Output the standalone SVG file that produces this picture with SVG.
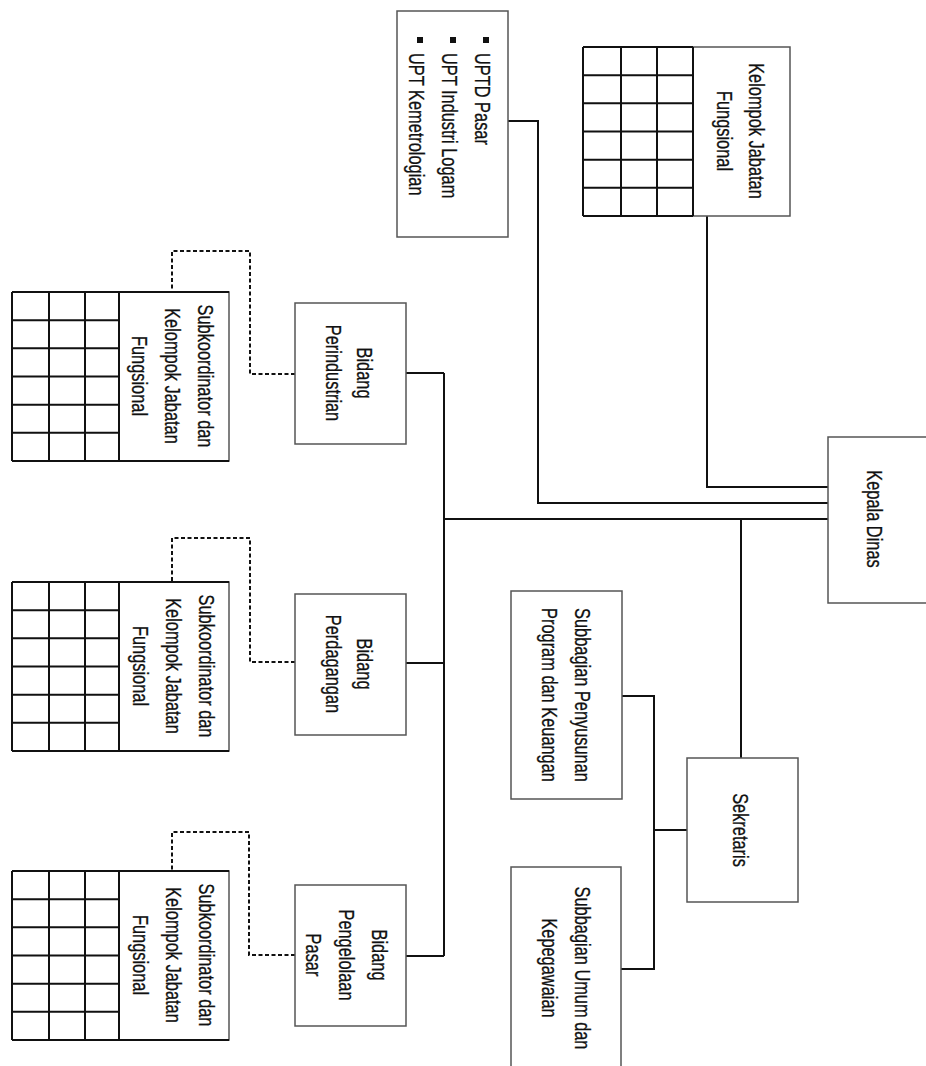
<svg xmlns="http://www.w3.org/2000/svg" width="926" height="1066" viewBox="0 0 926 1066">
<style>
.box{fill:#fff;stroke:#555;stroke-width:1.5}
.grid{fill:none;stroke:#111;stroke-width:2}
.conn{fill:none;stroke:#111;stroke-width:2}
.dash{fill:none;stroke:#111;stroke-width:2;stroke-dasharray:4 2.5}
text{font-family:"Liberation Sans",Arial,sans-serif;font-size:22px;fill:#111;stroke:#111;stroke-width:0.3}
.m{text-anchor:middle}
</style>
<defs>
<g id="grid6">
<path class="grid" d="M0,0H217 M0,169H217 M0,0V169 M37,0V169 M73,0V169 M107,0V169 M0,28.2H107 M0,56.3H107 M0,84.5H107 M0,112.7H107 M0,140.8H107"/>
</g>
</defs>
<rect width="926" height="1066" fill="#fff"/>

<g id="connectors">
<path class="conn" d="M508,121H538V503H828"/>
<path class="conn" d="M707,216V487H828"/>
<path class="conn" d="M444,519H828"/>
<path class="conn" d="M444,373V956"/>
<path class="conn" d="M406,373H444 M406,663H444 M406,956H444"/>
<path class="conn" d="M741,519V758"/>
<path class="conn" d="M687,830H654 M622,696H654V969H621"/>
<path class="dash" d="M295,374H250V251H172V292"/>
<path class="dash" d="M295,662H250V538H172V582"/>
<path class="dash" d="M295,955H249V832H172V871"/>
</g>

<g id="upt">
<rect class="box" x="397" y="11" width="111" height="226"/>
<rect x="483" y="37" width="6" height="6" fill="#111"/>
<rect x="450" y="37" width="6" height="6" fill="#111"/>
<rect x="417" y="37" width="6" height="6" fill="#111"/>
<text transform="translate(474.5,53) rotate(90) scale(0.745,1)"><tspan x="0">UPTD Pasar</tspan><tspan x="0" dy="33">UPT Industri Logam</tspan><tspan x="0" dy="33">UPT Kemetrologian</tspan></text>
</g>

<g id="kelompok-jf">
<rect class="box" x="693" y="47" width="97" height="169"/>
<path class="grid" d="M583,47H693 M583,216H693 M583,47V216 M621,47V216 M657,47V216 M693,47V216 M583,75.2H693 M583,103.3H693 M583,131.5H693 M583,159.7H693 M583,187.8H693"/>
<text class="m" transform="translate(749,131) rotate(90) scale(0.745,1)"><tspan x="0">Kelompok Jabatan</tspan><tspan x="0" dy="32">Fungsional</tspan></text>
</g>

<g id="kepala-dinas">
<rect class="box" x="828" y="437" width="100" height="166"/>
<text class="m" transform="translate(867,519) rotate(90) scale(0.745,1)">Kepala Dinas</text>
</g>

<g id="bidang-perindustrian">
<rect class="box" x="295" y="303" width="111" height="141"/>
<text class="m" transform="translate(356.5,373) rotate(90) scale(0.745,1)"><tspan x="0">Bidang</tspan><tspan x="0" dy="31">Perindustrian</tspan></text>
</g>

<g id="bidang-perdagangan">
<rect class="box" x="295" y="594" width="111" height="141"/>
<text class="m" transform="translate(356.5,664) rotate(90) scale(0.745,1)"><tspan x="0">Bidang</tspan><tspan x="0" dy="31">Perdagangan</tspan></text>
</g>

<g id="bidang-pengelolaan-pasar">
<rect class="box" x="295" y="885" width="111" height="141"/>
<text class="m" transform="translate(372,955) rotate(90) scale(0.745,1)"><tspan x="0">Bidang</tspan><tspan x="0" dy="33">Pengelolaan</tspan><tspan x="0" dy="33">Pasar</tspan></text>
</g>

<g id="subkoordinator-1">
<rect class="box" x="119" y="292" width="110" height="169"/>
<use href="#grid6" x="12" y="292"/>
<text class="m" transform="translate(198,376) rotate(90) scale(0.745,1)"><tspan x="0">Subkoordinator dan</tspan><tspan x="0" dy="33">Kelompok Jabatan</tspan><tspan x="0" dy="33">Fungsional</tspan></text>
</g>

<g id="subkoordinator-2">
<rect class="box" x="119" y="582" width="110" height="169"/>
<use href="#grid6" x="12" y="582"/>
<text class="m" transform="translate(198.5,666) rotate(90) scale(0.745,1)"><tspan x="0">Subkoordinator dan</tspan><tspan x="0" dy="33">Kelompok Jabatan</tspan><tspan x="0" dy="33">Fungsional</tspan></text>
</g>

<g id="subkoordinator-3">
<rect class="box" x="119" y="871" width="110" height="169"/>
<use href="#grid6" x="12" y="871"/>
<text class="m" transform="translate(199,955) rotate(90) scale(0.745,1)"><tspan x="0">Subkoordinator dan</tspan><tspan x="0" dy="33">Kelompok Jabatan</tspan><tspan x="0" dy="33">Fungsional</tspan></text>
</g>

<g id="subbagian-penyusunan">
<rect class="box" x="511" y="591" width="111" height="208"/>
<text class="m" transform="translate(575,695) rotate(90) scale(0.745,1)"><tspan x="0">Subbagian Penyusunan</tspan><tspan x="0" dy="33">Program dan Keuangan</tspan></text>
</g>

<g id="sekretaris">
<rect class="box" x="687" y="758" width="111" height="144"/>
<text class="m" transform="translate(733,830) rotate(90) scale(0.745,1)">Sekretaris</text>
</g>

<g id="subbagian-umum">
<rect class="box" x="511" y="867" width="110" height="210"/>
<text class="m" transform="translate(575,968) rotate(90) scale(0.745,1)"><tspan x="0">Subbagian Umum dan</tspan><tspan x="0" dy="33">Kepegawaian</tspan></text>
</g>
</svg>
